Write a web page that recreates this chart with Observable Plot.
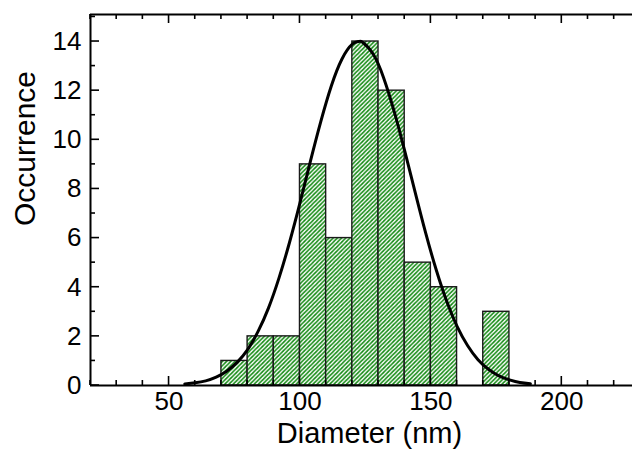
<!DOCTYPE html>
<html>
<head>
<meta charset="utf-8">
<script src="https://cdn.jsdelivr.net/npm/d3@7"></script>
<script src="https://cdn.jsdelivr.net/npm/@observablehq/plot@0.6"></script>
<style>
  html, body { margin: 0; padding: 0; background: #fff; }
  #chart svg { display: block; font-family: "Liberation Sans", Arial, sans-serif; }
</style>
</head>
<body>
<div id="chart"></div>
<script>
// Histogram bins (nm) and counts
const binStart = [70, 80, 90, 100, 110, 120, 130, 140, 150, 170];
const binEnd   = [80, 90, 100, 110, 120, 130, 140, 150, 160, 180];
const counts   = [1, 2, 2, 9, 6, 14, 12, 5, 4, 3];

// Fitted curve
const fitX = [56, 60, 64, 68, 72, 76, 80, 84, 88, 92, 96, 100, 104, 108, 112, 116, 120, 122.5, 124, 128, 132, 136, 140, 144, 148, 152, 156, 160, 164, 168, 172, 176, 180, 184, 188];
const fitY = [0.06, 0.11, 0.19, 0.34, 0.58, 0.94, 1.46, 2.20, 3.16, 4.38, 5.82, 7.43, 9.13, 10.76, 12.20, 13.28, 13.89, 14.0, 13.96, 13.48, 12.51, 11.15, 9.55, 7.86, 6.21, 4.72, 3.44, 2.41, 1.63, 1.05, 0.66, 0.39, 0.23, 0.12, 0.07];

// Axes
const xDomain = [20, 227];
const yDomain = [0, 15.1];
const xTicks = [50, 100, 150, 200];
const xMinor = [20, 30, 40, 60, 70, 80, 90, 110, 120, 130, 140, 160, 170, 180, 190, 210, 220];
const yTicks = [0, 2, 4, 6, 8, 10, 12, 14];
const yMinor = [1, 3, 5, 7, 9, 11, 13, 15];
const xLabel = "Diameter (nm)";
const yLabel = "Occurrence";

const bars = binStart.map((s, i) => ({x1: s, x2: binEnd[i], count: counts[i]}));
const fit = fitX.map((x, i) => ({x, y: fitY[i]}));

function tickMarks(index, {x, y}) {
  const g = d3.create("svg:g").attr("stroke", "#000").attr("stroke-width", 1.6);
  const x0 = x(xDomain[0]);
  const yb = y(yDomain[0]);
  const yt = y(yDomain[1]);
  for (const v of yTicks.concat(yMinor)) {
    if (v > yDomain[1]) continue;
    const len = yTicks.includes(v) ? 9 : 5;
    g.append("line").attr("x1", x0).attr("x2", x0 + len).attr("y1", y(v)).attr("y2", y(v));
  }
  for (const v of xTicks.concat(xMinor)) {
    const len = xTicks.includes(v) ? 9 : 5;
    g.append("line").attr("x1", x(v)).attr("x2", x(v)).attr("y1", yb).attr("y2", yb - len);
    g.append("line").attr("x1", x(v)).attr("x2", x(v)).attr("y1", yt).attr("y2", yt + len);
  }
  return g.node();
}

const chart = Plot.plot({
  width: 632,
  height: 449,
  marginLeft: 90,
  marginRight: 0,
  marginTop: 14,
  marginBottom: 64,
  x: {domain: xDomain},
  y: {domain: yDomain},
  style: {fontFamily: '"Liberation Sans", Arial, sans-serif', background: "#fff"},
  marks: [
    Plot.rectY(bars, {x1: "x1", x2: "x2", y: "count", fill: "url(#hatch)", stroke: "#1a1a1a", strokeWidth: 1.4}),
    Plot.line(fit, {x: "x", y: "y", stroke: "#000", strokeWidth: 3, curve: "natural"}),
    Plot.ruleX([xDomain[0]], {stroke: "#000", strokeWidth: 2}),
    Plot.ruleY([yDomain[0]], {stroke: "#000", strokeWidth: 2}),
    Plot.ruleY([yDomain[1]], {stroke: "#000", strokeWidth: 2}),
    tickMarks,
    Plot.axisY({ticks: yTicks, tickSize: 0, tickPadding: 9, fontSize: 26, label: null, fill: "#000", style: "letter-spacing:-1px"}),
    Plot.axisX({ticks: xTicks, tickSize: 0, tickPadding: 6, fontSize: 26, label: null, fill: "#000", style: "letter-spacing:-1px"}),
    Plot.text([xLabel], {frameAnchor: "bottom", text: d => d, lineAnchor: "top", dx: 8, dy: 37, fontSize: 29, fill: "#000"}),
    Plot.text([yLabel], {frameAnchor: "left", text: d => d, rotate: -90, dx: -65, dy: 26, fontSize: 30, fill: "#000"})
  ]
});

d3.select(chart).insert("defs", ":first-child").html(
  '<pattern id="hatch" patternUnits="userSpaceOnUse" width="4.2" height="4.2">' +
  '<rect width="4.2" height="4.2" fill="#fff"/>' +
  '<path d="M-1,1 L1,-1 M0,4.2 L4.2,0 M3.2,5.2 L5.2,3.2" stroke="#138a13" stroke-width="1.6"/>' +
  '</pattern>'
);

document.getElementById("chart").appendChild(chart);
</script>
</body>
</html>
